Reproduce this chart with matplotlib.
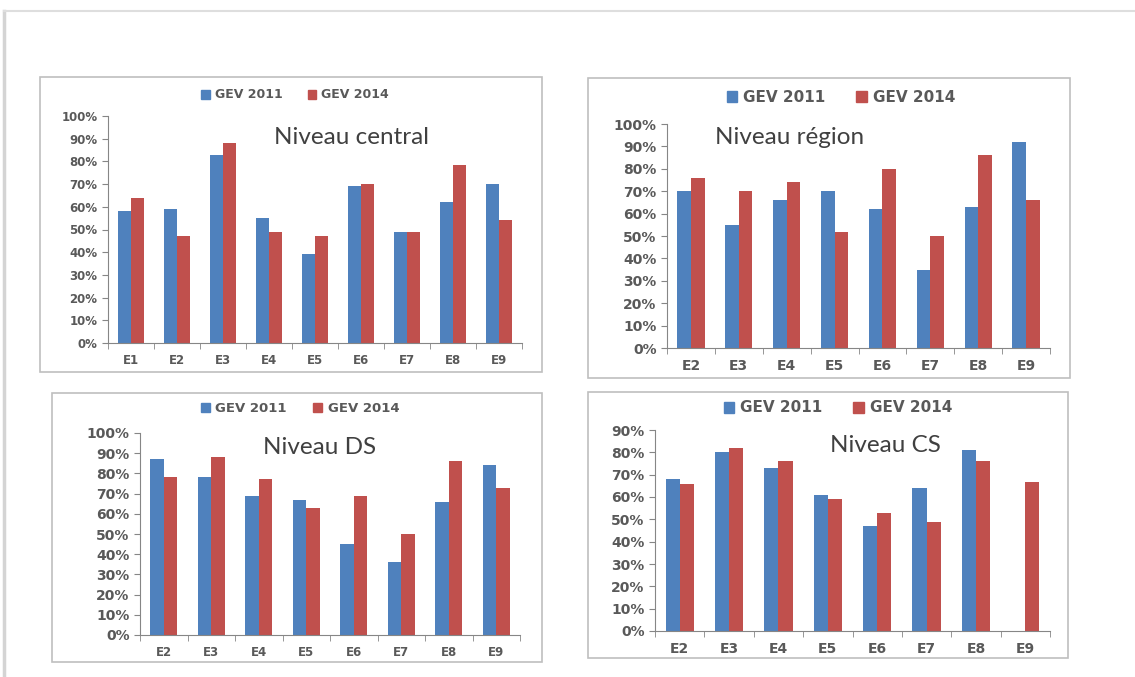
import numpy as np
import matplotlib
matplotlib.use('Agg')
import matplotlib.pyplot as plt
from matplotlib.patches import Rectangle, Patch
from matplotlib.lines import Line2D

plt.rcParams['font.family'] = ['DejaVu Sans']

W, H = 1135, 677
BLUE = '#4F81BD'
RED = '#C0504D'
GREY = '#595959'
SPINE = '#868686'

series_names = ['GEV 2011', 'GEV 2014']

# Niveau central
central_cats = ['E1', 'E2', 'E3', 'E4', 'E5', 'E6', 'E7', 'E8', 'E9']
central_2011 = [0.58, 0.59, 0.83, 0.55, 0.39, 0.69, 0.49, 0.62, 0.70]
central_2014 = [0.64, 0.47, 0.88, 0.49, 0.47, 0.70, 0.49, 0.785, 0.54]

# Niveau région
region_cats = ['E2', 'E3', 'E4', 'E5', 'E6', 'E7', 'E8', 'E9']
region_2011 = [0.70, 0.55, 0.66, 0.70, 0.62, 0.35, 0.63, 0.92]
region_2014 = [0.76, 0.70, 0.74, 0.52, 0.80, 0.50, 0.86, 0.66]

# Niveau DS
ds_cats = ['E2', 'E3', 'E4', 'E5', 'E6', 'E7', 'E8', 'E9']
ds_2011 = [0.87, 0.78, 0.69, 0.67, 0.45, 0.36, 0.66, 0.84]
ds_2014 = [0.78, 0.88, 0.77, 0.63, 0.69, 0.50, 0.86, 0.73]

# Niveau CS (pas de valeur 2011 pour E9)
cs_cats = ['E2', 'E3', 'E4', 'E5', 'E6', 'E7', 'E8', 'E9']
cs_2011 = [0.68, 0.80, 0.73, 0.61, 0.47, 0.64, 0.81, np.nan]
cs_2014 = [0.66, 0.82, 0.76, 0.59, 0.53, 0.49, 0.76, 0.665]


def fx(x):
    return x / W


def fy(y):
    return 1 - y / H


def rect_px(l, t, r, b):
    return [fx(l), fy(b), (r - l) / W, (b - t) / H]


fig = plt.figure(figsize=(W / 100, H / 100), dpi=100)
fig.patch.set_facecolor('white')

# cadre extérieur (ombre)
fig.add_artist(Line2D([fx(4), fx(4)], [fy(11), 0], color='#d4d4d4', lw=2.5))
fig.add_artist(Line2D([fx(4), 1], [fy(11), fy(11)], color='#dedede', lw=1.5))


def draw_panel(box, axpx, cats, v11, v14, ymax, title, title_xy, title_fs,
               leg_xy, leg_fs, ytick_fs, xtick_fs):
    l, t, r, b = box
    fig.add_artist(Rectangle((fx(l), fy(b)), (r - l) / W, (b - t) / H,
                             transform=fig.transFigure, fill=False,
                             edgecolor='#bfbfbf', lw=1.2))
    ax = fig.add_axes(rect_px(*axpx))
    x = np.arange(len(cats))
    w = 1 / 3.5
    ax.bar(x - w / 2, v11, w, color=BLUE, label=series_names[0])
    ax.bar(x + w / 2, v14, w, color=RED, label=series_names[1])
    ax.set_xlim(-0.5, len(cats) - 0.5)
    ax.set_ylim(0, ymax)
    yt = np.arange(0, ymax + 0.001, 0.1)
    ax.set_yticks(yt)
    ax.set_yticklabels(['%d%%' % round(v * 100) for v in yt])
    ax.set_xticks(x)
    ax.set_xticklabels(cats)
    ax.set_xticks(np.arange(-0.5, len(cats)), minor=True)
    for s in ['top', 'right']:
        ax.spines[s].set_visible(False)
    for s in ['left', 'bottom']:
        ax.spines[s].set_color(SPINE)
    ax.tick_params(axis='y', colors=SPINE, length=4, labelcolor=GREY,
                   labelsize=ytick_fs)
    ax.tick_params(axis='x', which='major', length=0, pad=8,
                   labelcolor=GREY, labelsize=xtick_fs)
    ax.tick_params(axis='x', which='minor', length=4, color=SPINE)
    for lab in ax.get_xticklabels() + ax.get_yticklabels():
        lab.set_fontweight('bold')
    handles = [Patch(color=BLUE), Patch(color=RED)]
    ax.legend(handles, series_names, ncol=2, loc='center',
              bbox_to_anchor=(fx(leg_xy[0]), fy(leg_xy[1])),
              bbox_transform=fig.transFigure, frameon=False,
              handlelength=0.7, handleheight=0.7, handletextpad=0.4,
              columnspacing=2.0, labelcolor=GREY,
              prop={'weight': 'bold', 'size': leg_fs})
    fig.text(fx(title_xy[0]), fy(title_xy[1]), title, ha='center',
             va='center', fontsize=title_fs, family=['Lato', 'DejaVu Sans'],
             color='#404040')
    return ax


draw_panel((40, 77, 542, 372), (108, 116, 522, 343),
           central_cats, central_2011, central_2014, 1.0,
           'Niveau central', (352, 137), 17.5, (295, 95), 9, 8.5, 8.5)
draw_panel((588, 78, 1070, 378), (667, 124, 1050, 348),
           region_cats, region_2011, region_2014, 1.0,
           'Niveau région', (790, 137), 17.5, (841, 97), 11, 10, 10)
draw_panel((52, 393, 542, 662), (140, 433, 520, 635),
           ds_cats, ds_2011, ds_2014, 1.0,
           'Niveau DS', (320, 447), 17.5, (300, 409), 9.5, 10, 8.5)
draw_panel((588, 392, 1068, 658), (655, 430, 1050, 631),
           cs_cats, cs_2011, cs_2014, 0.9,
           'Niveau CS', (885, 445), 17.5, (838, 408), 11, 10, 10)

fig.savefig('out.png', dpi=100)
